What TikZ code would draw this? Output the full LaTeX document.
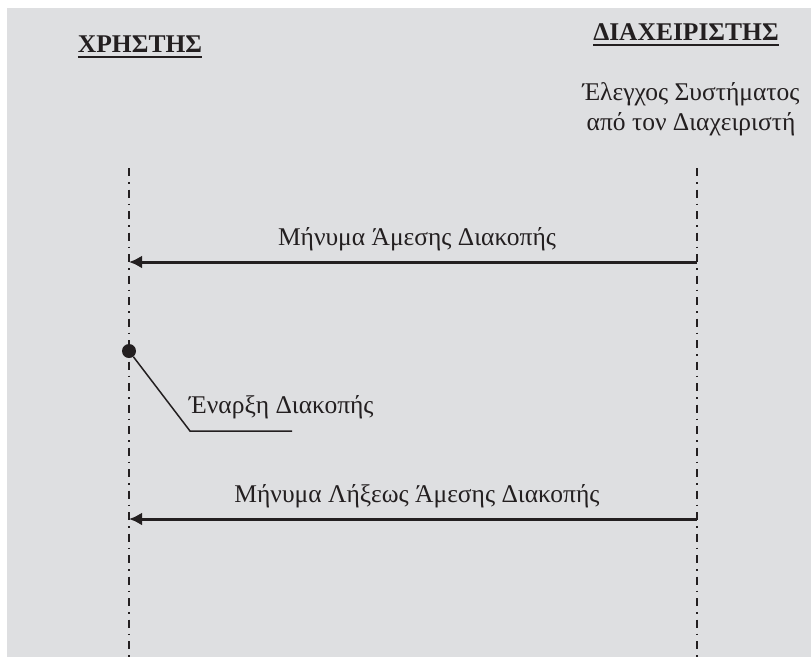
\documentclass[tikz,border=0pt]{standalone}
\usepackage{fontspec}
\setmainfont{Liberation Serif}
\usetikzlibrary{arrows.meta,positioning}
\definecolor{bggray}{RGB}{222,223,225}
\definecolor{ink}{RGB}{35,31,32}
\tikzset{
  headtext/.style={font=\bfseries\fontsize{25.5}{30}\selectfont, text=ink, inner sep=0pt},
  msgtext/.style={font=\fontsize{25.5}{30}\selectfont, text=ink, inner sep=0pt},
  lifeline/.style={draw=ink, line width=1.5pt, dash pattern=on 8pt off 6pt on 1.5pt off 6pt},
  message/.style={draw=ink, line width=3pt, -{Latex[length=13pt,width=13pt]}},
}
\begin{document}
\begin{tikzpicture}[x=1pt,y=-1pt]
    \useasboundingbox (0,0) rectangle (811,657);
    \fill[bggray] (7,8) rectangle (811,657);
    % headings
    \node[headtext, anchor=base] (user) at (140,52) {ΧΡΗΣΤΗΣ};
    \node[headtext, anchor=base] (admin) at (686,40) {ΔΙΑΧΕΙΡΙΣΤΗΣ};
    \draw[ink, line width=2.5pt] ([yshift=-5pt]user.base west) -- ([yshift=-5pt]user.base east);
    \draw[ink, line width=2.5pt] ([yshift=-5pt]admin.base west) -- ([yshift=-5pt]admin.base east);
    \node[msgtext, align=center] (check) at (691,109) {Έλεγχος Συστήματος\\από τον Διαχειριστή};
    % lifelines
    \coordinate (usertop) at (129,168);
    \coordinate (userbot) at (129,657);
    \coordinate (admintop) at (697,168);
    \coordinate (adminbot) at (697,657);
    \draw[lifeline] (usertop) -- (userbot);
    \draw[lifeline] (admintop) -- (adminbot);
    % messages
    \coordinate (m1from) at (697,262);
    \coordinate (m1to) at (129,262);
    \draw[message] (m1from) -- (m1to);
    \node[msgtext, anchor=base] (m1) at (417,245) {Μήνυμα Άμεσης Διακοπής};
    \coordinate (m2from) at (697,519);
    \coordinate (m2to) at (129,519);
    \draw[message] (m2from) -- (m2to);
    \node[msgtext, anchor=base] (m2) at (417,502) {Μήνυμα Λήξεως Άμεσης Διακοπής};
    % start of interruption
    \node[circle, fill=ink, minimum size=14pt, inner sep=0pt] (start) at (129,351) {};
    \coordinate (elbow) at (190,431);
    \coordinate (tail) at (292,431);
    \draw[ink, line width=1.5pt] (start) -- (elbow) -- (tail);
    \node[msgtext, anchor=base west] (startlbl) at (189,413) {Έναρξη Διακοπής};
\end{tikzpicture}
\end{document}
